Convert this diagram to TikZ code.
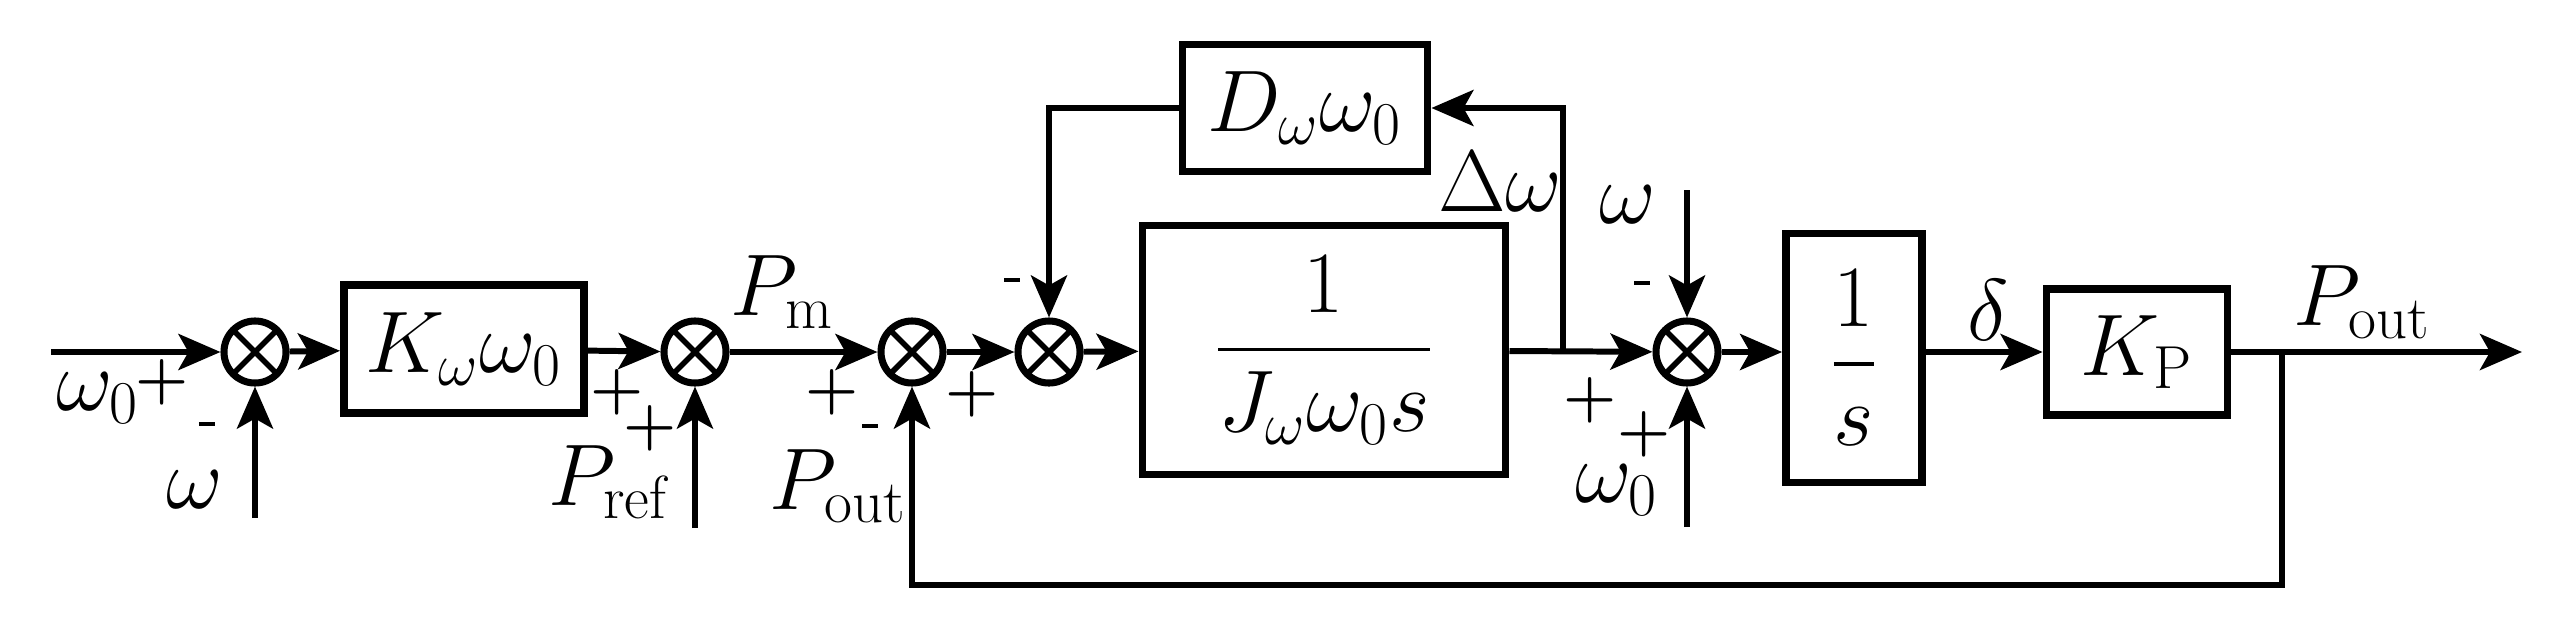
\documentclass[tikz,border=0pt]{standalone}
\usepackage{amsmath}
\usepackage{tikz}
\usetikzlibrary{arrows.meta}
\tikzset{
  blk/.style={draw,line width=2.2pt,inner sep=0pt,font=\fontsize{26}{30}\selectfont},
  sumnode/.style={draw,circle,line width=2pt,minimum size=0.62cm,inner sep=0pt,
    path picture={\draw[line width=1.6pt] (path picture bounding box.north west)--(path picture bounding box.south east)
      (path picture bounding box.north east)--(path picture bounding box.south west);}},
  sig/.style={line width=1.7pt,-{Stealth[length=0.42cm,width=0.36cm,inset=0.1cm]}},
  lbl/.style={inner sep=0pt,font=\fontsize{26}{30}\selectfont},
  sgn/.style={inner sep=0pt,font=\fontsize{17}{20}\selectfont},
}
\newcommand{\pl}{$\boldsymbol{+}$}
\newcommand{\mi}{\rule{0.16cm}{0.045cm}}
\begin{document}
\begin{tikzpicture}[x=0.01cm,y=-0.01cm]
        \useasboundingbox (0,0) rectangle (2549,627);
        %方块
        \node[sumnode] (s1) at (255,352) {};
        \node[blk,minimum width=2.4cm,minimum height=1.28cm] (kw) at (464,349) {$K_\omega\omega_0$};
        \node[sumnode] (s2) at (695,352) {};
        \node[sumnode] (s3) at (912,352) {};
        \node[sumnode] (s4) at (1049,352) {};
        \node[blk,minimum width=2.45cm,minimum height=1.27cm] (dw) at (1305,108) {$D_\omega\omega_0$};
        \node[blk,minimum width=3.63cm,minimum height=2.49cm] (jw) at (1324,350) {$\dfrac{1}{J_\omega\omega_0 s}$};
        \node[sumnode] (s5) at (1687,352) {};
        \node[blk,minimum width=1.36cm,minimum height=2.49cm] (is) at (1854,358) {$\dfrac{1}{s}$};
        \node[blk,minimum width=1.81cm,minimum height=1.26cm] (kp) at (2137,352) {$K_\mathrm{P}$};
        %端点
        \coordinate (in1) at (51,352);
        \coordinate (w1) at (255,518);
        \coordinate (pr) at (695,528);
        \coordinate (br) at (1563,352);
        \coordinate (w2) at (1687,190);
        \coordinate (w0) at (1687,527);
        \coordinate (bo) at (2282,352);
        \coordinate (out) at (2522,352);
        %连线
        \draw[sig] (in1) -- (s1);
        \draw[sig] (w1) -- (s1);
        \draw[sig] (s1) -- (kw);
        \draw[sig] (kw) -- (s2);
        \draw[sig] (pr) -- (s2);
        \draw[sig] (s2) -- (s3);
        \draw[sig] (s3) -- (s4);
        \draw[sig] (s4) -- (jw);
        \draw[sig] (jw) -- (s5);
        \draw[sig] (br) |- (dw);
        \draw[sig] (dw) -| (s4);
        \draw[sig] (w2) -- (s5);
        \draw[sig] (w0) -- (s5);
        \draw[sig] (s5) -- (s5 -| is.west);
        \draw[sig] (is.east |- kp) -- (kp);
        \draw[sig] (kp) -- (out);
        \draw[sig] (bo) |- (912,585) -- (s3);
        %标注
        \node[lbl] (l1) at (98,398) {$\omega_0$};
        \node[sgn] (p1) at (162,382) {\pl};
        \node[sgn] (m1) at (207,424) {\mi};
        \node[lbl] (l2) at (195,490) {$\omega$};
        \node[sgn] (p2) at (617,392) {\pl};
        \node[sgn] (p3) at (650,428) {\pl};
        \node[lbl] (l3) at (610,482) {$P_\mathrm{ref}$};
        \node[lbl] (l4) at (782,292) {$P_\mathrm{m}$};
        \node[sgn] (p4) at (832,392) {\pl};
        \node[sgn] (m2) at (870,426) {\mi};
        \node[lbl] (l5) at (838,486) {$P_\mathrm{out}$};
        \node[sgn] (p5) at (972,394) {\pl};
        \node[sgn] (m3) at (1012,280) {\mi};
        \node[lbl] (l6) at (1500,182) {$\Delta\omega$};
        \node[lbl] (l7) at (1628,205) {$\omega$};
        \node[sgn] (m4) at (1642,283) {\mi};
        \node[sgn] (p6) at (1590,400) {\pl};
        \node[sgn] (p7) at (1644,434) {\pl};
        \node[lbl] (l8) at (1617,490) {$\omega_0$};
        \node[lbl] (l9) at (1988,310) {$\delta$};
        \node[lbl] (l10) at (2362,302) {$P_\mathrm{out}$};
\end{tikzpicture}
\end{document}
